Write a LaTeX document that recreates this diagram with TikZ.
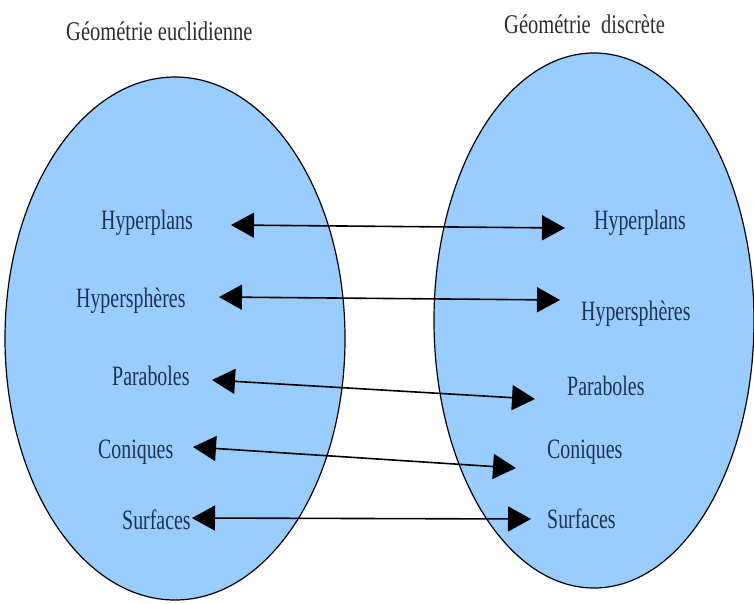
\documentclass[tikz,border=0pt]{standalone}
\usepackage{fontspec}
\setmainfont{Liberation Serif}
\usetikzlibrary{arrows.meta,shapes.geometric}
\definecolor{setfill}{HTML}{99CCFF}
\definecolor{labelcol}{HTML}{1C3352}
\definecolor{titlecol}{HTML}{2E2E2E}
\newcommand\condl[1]{\scalebox{0.71}[1]{#1}}
\newcommand\condt[1]{\scalebox{0.76}[1]{#1}}
\begin{document}
\begin{tikzpicture}[x=1pt,y=-1pt,
  setshape/.style={ellipse,draw=black,line width=1.2pt,fill=setfill,inner sep=0pt},
  lab/.style={text=labelcol,font=\fontsize{28}{33}\selectfont,inner sep=0pt,anchor=base west},
  ttl/.style={text=titlecol,font=\fontsize{27}{32}\selectfont,inner sep=0pt,anchor=base west},
  link/.style={line width=1.6pt,{Triangle[length=23pt,width=25pt]}-{Triangle[length=23pt,width=25pt]}}]
\useasboundingbox (0,0) rectangle (754,603);
\fill[white] (0,0) rectangle (754,603);
% sets
\node[setshape,minimum width=340pt,minimum height=523pt] (E) at (175,338.5) {};
\node[setshape,minimum width=320pt,minimum height=535pt] (D) at (594,320.5) {};
% titles
\node[ttl] (tE) at (66,40) {\condt{Géométrie euclidienne}};
\node[ttl] (tD) at (504,33) {\condt{Géométrie\ \ discrète}};
% left labels
\node[lab] (l1) at (101,229) {\condl{Hyperplans}};
\node[lab] (l2) at (76,307) {\condl{Hypersphères}};
\node[lab] (l3) at (112,385) {\condl{Paraboles}};
\node[lab] (l4) at (98,458) {\condl{Coniques}};
\node[lab] (l5) at (122,529) {\condl{Surfaces}};
% right labels
\node[lab] (r1) at (594,229) {\condl{Hyperplans}};
\node[lab] (r2) at (581,320) {\condl{Hypersphères}};
\node[lab] (r3) at (567,395) {\condl{Paraboles}};
\node[lab] (r4) at (547,458) {\condl{Coniques}};
\node[lab] (r5) at (547,528) {\condl{Surfaces}};
% arrow ends
\coordinate (a1) at (231,225); \coordinate (b1) at (565,228);
\coordinate (a2) at (219,297); \coordinate (b2) at (560,300);
\coordinate (a3) at (212,380); \coordinate (b3) at (535,399);
\coordinate (a4) at (193,447); \coordinate (b4) at (516,468);
\coordinate (a5) at (192,518); \coordinate (b5) at (531,519);
\draw[link] (a1) -- (b1);
\draw[link] (a2) -- (b2);
\draw[link] (a3) -- (b3);
\draw[link] (a4) -- (b4);
\draw[link] (a5) -- (b5);
\end{tikzpicture}
\end{document}
